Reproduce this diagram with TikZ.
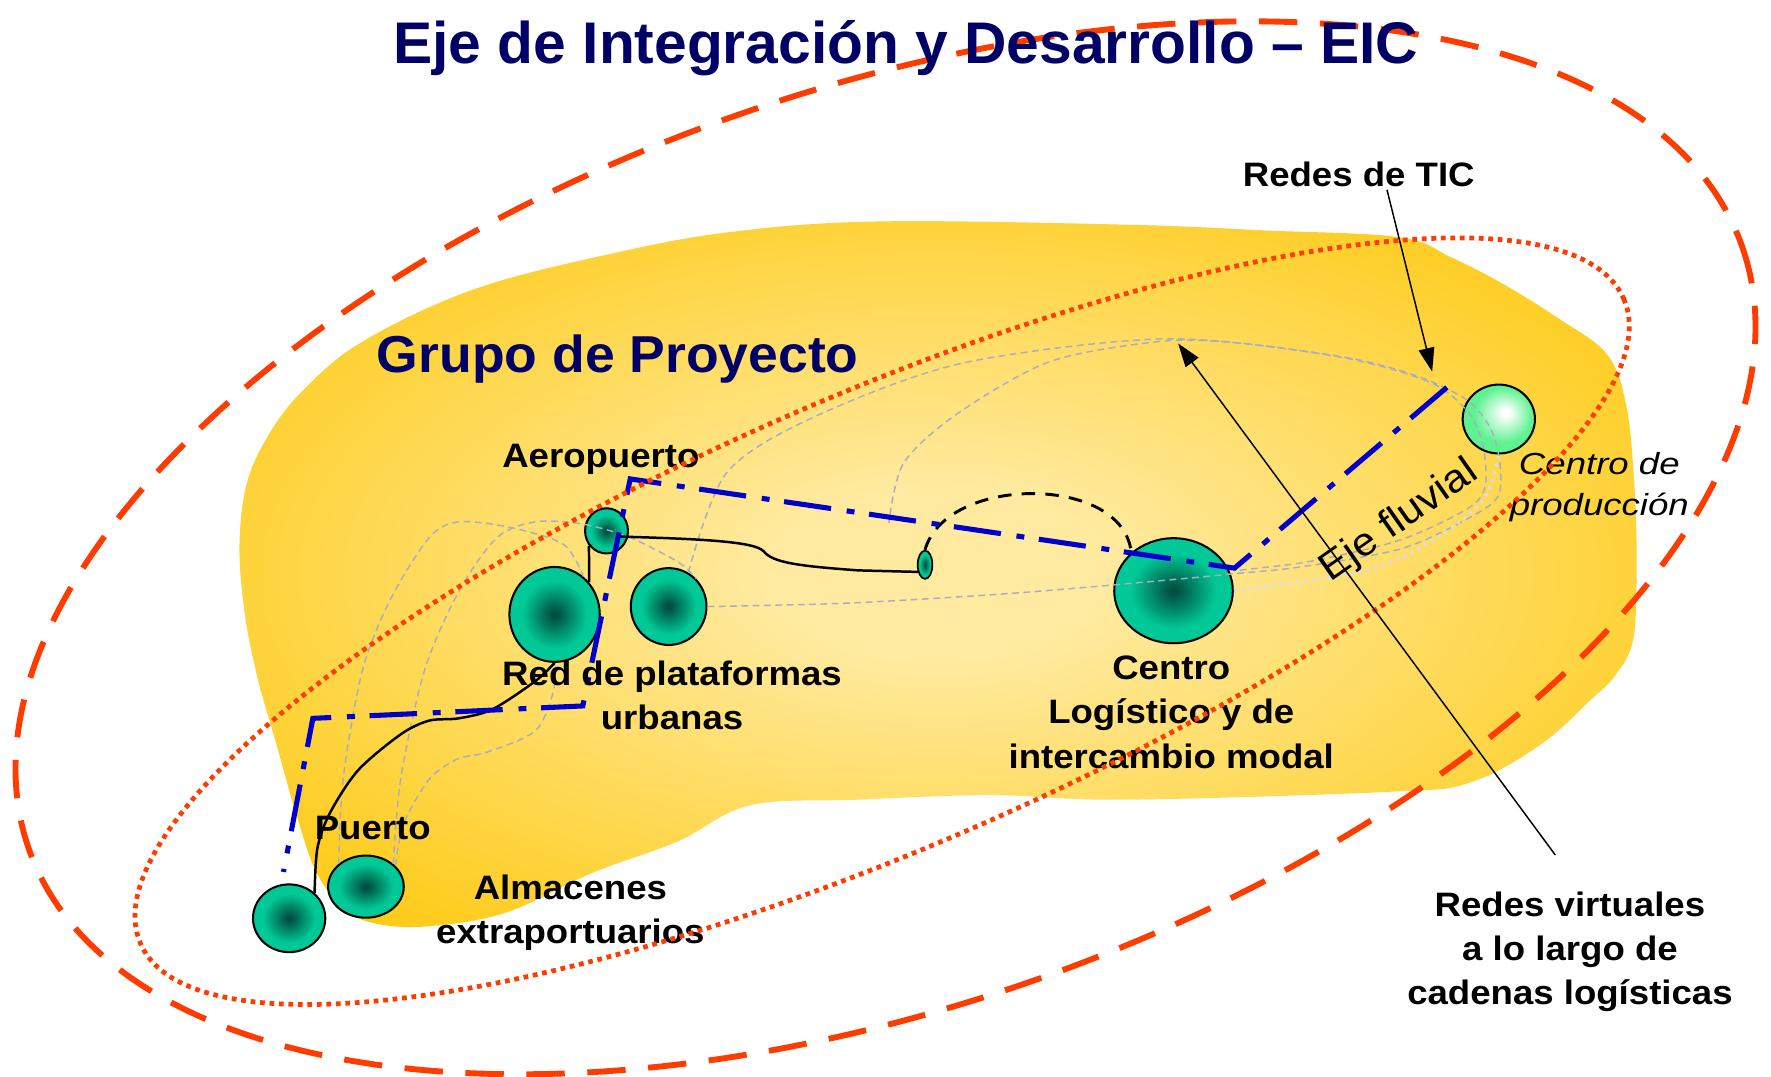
\documentclass[tikz,border=0pt]{standalone}
\usepackage{fontspec}
\setmainfont{Liberation Sans}
\newfontfamily\lblfont[FakeStretch=1.08]{Liberation Sans}
\newfontfamily\itlfont[FakeStretch=1.2]{Liberation Sans}
\newfontfamily\grpfont[FakeStretch=1.03]{Liberation Sans}
\usetikzlibrary{shapes.geometric,arrows.meta}
\definecolor{navy}{RGB}{0,0,102}
\definecolor{ylight}{RGB}{255,234,160}
\definecolor{yedge}{RGB}{254,200,10}
\definecolor{gdark}{RGB}{0,80,64}
\definecolor{gedge}{RGB}{0,200,150}
\definecolor{pedge}{RGB}{95,242,145}
\definecolor{redo}{RGB}{255,60,0}
\definecolor{eblue}{RGB}{0,0,204}
\definecolor{lgray}{RGB}{168,174,194}
\definecolor{lav}{RGB}{214,220,250}
\pgfdeclareradialshading{yblob}{\pgfpoint{0bp}{0bp}}{color(0bp)=(ylight); color(6bp)=(ylight); color(34bp)=(yedge); color(50bp)=(yedge)}
\pgfdeclareradialshading{gball}{\pgfpoint{0bp}{0bp}}{color(0bp)=(gdark); color(1.5bp)=(gdark); color(18bp)=(gedge); color(50bp)=(gedge)}
\pgfdeclareradialshading{pball}{\pgfpoint{5bp}{5bp}}{color(0bp)=(white); color(2.5bp)=(white); color(20bp)=(pedge); color(50bp)=(pedge)}
\begin{document}
\begin{tikzpicture}[x=1pt,y=-1pt,
  reddash/.style={draw=redo, line width=5.2pt, dash pattern=on 34pt off 20pt},
  reddot/.style={draw=redo, line width=4.2pt, dash pattern=on 4.2pt off 4.2pt},
  gline/.style={draw=lgray, line width=1.3pt, dash pattern=on 6pt off 4pt},
  lavdot/.style={draw=lav, line width=2.6pt, dash pattern=on 2.5pt off 4.5pt},
  bluedd/.style={draw=eblue, line width=4.5pt, dash pattern=on 42pt off 13pt on 7pt off 14pt},
  bline/.style={draw=black, line width=2.2pt},
  bdash/.style={draw=black, line width=2.6pt, dash pattern=on 12pt off 9pt},
  arr/.style={draw=black, line width=1.3pt, -{Triangle[length=21pt,width=14pt]}},
  gcirc/.style={ellipse, draw=black, line width=1.8pt, shade, shading=gball, inner sep=0pt},
  pcirc/.style={ellipse, draw=black, line width=1.8pt, shade, shading=pball, inner sep=0pt},
  lbl/.style={font=\lblfont\bfseries\fontsize{30}{39}\selectfont, align=center, inner sep=0pt, anchor=base},
  ttl/.style={text=navy, inner sep=0pt, anchor=base}
]
\fill[white] (0,0) rectangle (1568,953);
\useasboundingbox (0,0) rectangle (1568,953);

% yellow project area
\shade[shading=yblob] plot[smooth cycle, tension=0.6] coordinates {
 (212,485) (218,430) (236,388) (266,348) (320,303) (420,256) (544,224) (650,205)
 (781,196) (1000,199) (1120,204) (1239,210) (1285,228) (1330,251) (1380,282)
 (1423,314) (1440,360) (1447,430) (1449,500) (1446,566) (1430,598) (1408,620)
 (1363,660) (1301,693) (1231,701) (996,708) (877,704) (760,708) (664,713)
 (600,745) (524,773) (448,808) (380,820) (334,818) (305,805) (280,772)
 (262,720) (245,660) (228,600) (217,545)};

% nodes (platforms)
\node[gcirc, minimum width=64pt, minimum height=60pt] (puerto) at (256,813) {};
\node[gcirc, minimum width=67pt, minimum height=55pt] (almac) at (324,785) {};
\node[gcirc, minimum width=80pt, minimum height=84pt] (rpa) at (491,544) {};
\node[gcirc, minimum width=67pt, minimum height=68pt] (rpb) at (592,537) {};
\node[gcirc, minimum width=38pt, minimum height=40pt] (aero) at (537,470) {};
\node[gcirc, line width=1.5pt, minimum width=13pt, minimum height=25pt] (tiny) at (819,500) {};
\node[gcirc, minimum width=105pt, minimum height=93pt] (centro) at (1039,523) {};
\node[pcirc, minimum width=64pt, minimum height=61pt] (prod) at (1327,371) {};

% virtual networks (grey dashed)
\draw[gline] plot[smooth] coordinates {(almac.140) (304,688) (321,593) (346,530) (380,476) (406,462) (452,467) (499,482) (rpa.53)};
\draw[gline] plot[smooth] coordinates {(almac.40) (355,688) (376,593) (406,524) (440,476) (474,462) (516,464) (558,476) (601,498) (rpb.45)};
\draw[gline] plot[smooth] coordinates {(almac.35) (357,730) (380,690) (405,672) (431,666) (474,647) (490,612) (rpa.south)};
\draw[gline] plot[smooth] coordinates {(rpb.east) (750,534) (900,525) (1040,513) (1092,508) (1151,502) (1240,486) (1298,460) (1326,440) (1328,410) (1320,380) (1300,355) (1260,335) (1200,318) (1100,304) (1030,302) (930,320) (848,366) (800,410) (787,463)};
\draw[gline] plot[smooth] coordinates {(rpb.60) (643,419) (719,370) (850,322) (1030,300) (1180,315) (1265,338) (1300,365) (1313,395) (1315,430) (1300,450) (1240,478) (1160,497) (1095,505)};
\draw[lavdot] plot[smooth] coordinates {(centro.east) (1210,505) (1269,478) (1313,443) (prod.south)};

% physical links
\coordinate (a0) at (546,475);
\draw[bline] (a0) .. controls (615,477) and (668,479) .. (676,488) .. controls (684,498) and (705,501) .. (760,505) -- (tiny.225);
\draw[bline] (aero.220) -- (rpa.43);
\draw[bline] plot[smooth] coordinates {(rpa.south) (474,603) (436,628) (406,636) (380,638) (355,650) (317,682) (292,720) (281,751) (puerto.45)};
\draw[bdash] (tiny.north) .. controls (838,420) and (995,420) .. (centro.138);

% ICT network (blue dash-dot)
\coordinate (b1) at (1281,343);
\coordinate (b2) at (1093,503);
\coordinate (b3) at (558,424);
\coordinate (b4) at (516,625);
\coordinate (b5) at (277,636);
\coordinate (b6) at (251,772);
\draw[bluedd] (b1) -- (b2) -- (b3) -- (b4) -- (b5) -- (b6);

% labels (multi-line nodes anchored on the baseline of their last line)
\node[lbl] (laero) at (532,414) {Aeropuerto};
\node[lbl] (lred) at (595,646) {Red de plataformas\\urbanas};
\node[lbl] (lcentro) at (1037,680) {Centro\\Logístico y de\\intercambio modal};
\node[lbl] (lpuerto) at (330,743) {Puerto};
\node[lbl] (lalm) at (505,835) {Almacenes\\extraportuarios};
\node[lbl] (lvirt) at (1390,889) {Redes virtuales\\a lo largo de\\cadenas logísticas};
\node[lbl] (ltic) at (1203,165) {Redes de TIC};
\node[font=\itlfont\itshape\fontsize{27}{35.5}\selectfont, align=center, inner sep=0pt, anchor=base] (lprod) at (1416,456) {Centro de\\producción};
\node[font=\lblfont\fontsize{35}{40}\selectfont, inner sep=0pt, anchor=base, rotate=35] (leje) at (1244,469) {Eje fluvial};

% integration axis and project group boundaries
\draw[reddot, rotate around={23.5:(781,550)}] (781,550) ellipse [x radius=716, y radius=200];
\draw[reddash, rotate around={19.4:(784,485)}] (784,485) ellipse [x radius=804, y radius=405];

% pointers
\coordinate (ticfoot) at (1228,168);
\coordinate (tictip) at (1268,329);
\coordinate (vtail) at (1377,757);
\coordinate (vtip) at (1043,304);
\draw[arr] (ticfoot) -- (tictip);
\draw[arr] (vtail) -- (vtip);

% titles
\node[ttl, font=\grpfont\bfseries\fontsize{46}{52}\selectfont] (grupo) at (547,330) {Grupo de Proyecto};
\node[ttl, font=\bfseries\fontsize{52}{60}\selectfont] (title) at (802,56) {Eje de Integración y Desarrollo – EIC};
\end{tikzpicture}
\end{document}
